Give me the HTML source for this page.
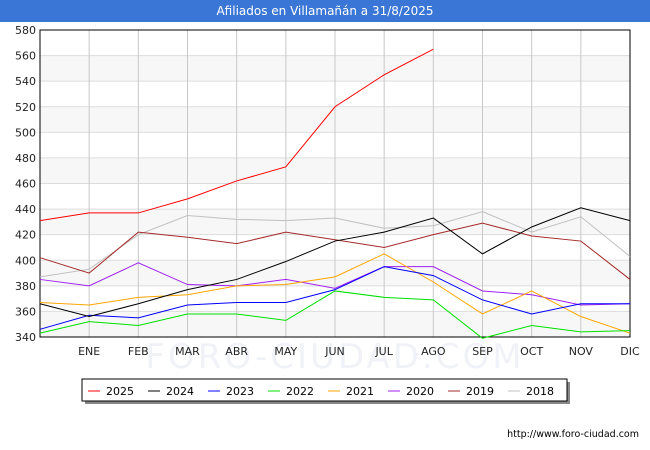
<!DOCTYPE html>
<html><head><meta charset="utf-8"><style>
body{margin:0;width:650px;height:450px;background:#fff;font-family:"DejaVu Sans",sans-serif;overflow:hidden}
#title{position:absolute;left:0;top:0;width:650px;height:22px;background:#3a76d6;color:#fff;font-size:12px;text-align:center;line-height:22px}
svg{position:absolute;left:0;top:0;font-family:"DejaVu Sans",sans-serif}
</style></head><body>
<div id="title">Afiliados en Villamañán a 31/8/2025</div>
<svg id="c" width="650" height="450"></svg>
<script>
const months=["","ENE","FEB","MAR","ABR","MAY","JUN","JUL","AGO","SEP","OCT","NOV","DIC"];
const yTicks=[340,360,380,400,420,440,460,480,500,520,540,560,580];
const seriesNames=["2025","2024","2023","2022","2021","2020","2019","2018"];
const seriesColors=["#ff0000","#000000","#0000ff","#00e000","#ffa500","#a020f0","#a52a2a","#c0c0c0"];
const s2025=[431,437,437,448,462,473,520,545,565];
const s2024=[366,356,366,377,385,399,415,422,433,405,426,441,431];
const s2023=[346,357,355,365,367,367,377,395,388,369,358,366,366];
const s2022=[343,352,349,358,358,353,376,371,369,339,349,344,345];
const s2021=[367,365,371,373,380,381,387,405,383,358,376,356,343];
const s2020=[385,380,398,381,380,385,378,395,395,376,373,365,366];
const s2019=[402,390,422,418,413,422,416,410,420,429,419,415,385];
const s2018=[387,393,420,435,432,431,433,425,427,438,422,434,403];
const allSeries=[s2025,s2024,s2023,s2022,s2021,s2020,s2019,s2018];
const L=40,R=630,T=30,B=337;
const xs=i=>L+i*(R-L)/12;
const ys=v=>B-(v-340)*(B-T)/240;
const svg=document.getElementById('c');const NS="http://www.w3.org/2000/svg";
function mk(t,a,p){const e=document.createElementNS(NS,t);for(const k in a)e.setAttribute(k,a[k]);(p||svg).appendChild(e);return e;}
for(let i=0;i<yTicks.length-1;i++){if(i%2==0){const r=mk('rect',{x:L,y:ys(yTicks[i+1]),width:R-L,height:ys(yTicks[i])-ys(yTicks[i+1]),fill:'#f7f7f7'});

}}
const wm=mk('text',{x:335,y:368,'font-size':34,fill:'#f0f2f8','text-anchor':'middle','letter-spacing':'3'});wm.textContent="FORO-CIUDAD.COM";


yTicks.forEach(v=>{const l=mk('line',{x1:L,x2:R,y1:ys(v),y2:ys(v),stroke:'#dddddd'});


const t=mk('text',{x:L-4,y:ys(v)+4,'font-size':11,'text-anchor':'end',fill:'#222'});t.textContent=v;

});
months.forEach((m,i)=>{if(i>0){const l=mk('line',{x1:xs(i),x2:xs(i),y1:T,y2:B,stroke:'#c8c8c8'});

}
const t=mk('text',{x:xs(i),y:355,'font-size':11,'text-anchor':'middle',fill:'#222'});t.textContent=m;

});
const fr=mk('rect',{x:L,y:T,width:R-L,height:B-T,fill:'none',stroke:'#000'});


for(let s=allSeries.length-1;s>=0;s--){const pts=allSeries[s].map((v,i)=>xs(i)+','+ys(v)).join(' ');
const pl=mk('polyline',{points:pts,fill:'none',stroke:seriesColors[s],'stroke-width':1});

}
mk('rect',{x:85,y:382,width:485,height:22,fill:'#888'});
const lg=mk('rect',{x:82,y:379,width:485,height:22,fill:'#fff',stroke:'#000'});


seriesNames.forEach((n,i)=>{const x0=88+i*60;const g=mk('g',{});


mk('line',{x1:x0,x2:x0+12,y1:391,y2:391,stroke:seriesColors[i]},g);
const t=mk('text',{x:x0+18,y:395,'font-size':11,fill:'#000'},g);t.textContent=n;});
const u=mk('text',{x:639,y:437,'font-size':9.5,'text-anchor':'end',fill:'#000'});u.textContent="http://www.foro-ciudad.com";


</script>
</body></html>
